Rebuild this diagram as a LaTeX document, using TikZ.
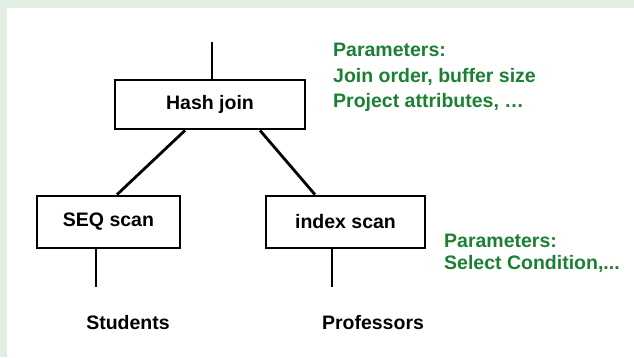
\documentclass[tikz,border=0pt]{standalone}
\usepackage{fontspec}
\setmainfont{Liberation Sans}
\usetikzlibrary{positioning}
\definecolor{paramgreen}{RGB}{28,128,52}
\definecolor{framegreen}{RGB}{227,239,229}

\begin{document}
\begin{tikzpicture}[x=1pt,y=-1pt,
        op/.style={draw,line width=2.8pt,inner sep=0pt,font=\fontsize{19.5}{23}\selectfont\bfseries},
        rel/.style={font=\fontsize{19.5}{23}\selectfont\bfseries},
        param/.style={text=paramgreen,align=left,anchor=north west,inner sep=0pt,
                font=\fontsize{19.5}{25.5}\selectfont\bfseries},
        wire/.style={line width=2.8pt}]
        \fill [framegreen] (0,0) rectangle (634,357);
        \fill [white] (7,8) rectangle (634,357);
        \useasboundingbox (0,0) rectangle (634,357);

        \node [op,minimum width=190pt,minimum height=49pt] (hash) at (210,104.5) {Hash join};
        \node [op,minimum width=143pt,minimum height=52pt] (seq) at (108.5,222) {SEQ scan};
        \node [op,minimum width=159pt,minimum height=52pt] (index) at (345.5,222) {index scan};
        \node [rel] (students) at (128,323) {Students};
        \node [rel] (profs) at (373,323) {Professors};
        \node [param] (hashpar) at (333,43) {Parameters:\\Join order, buffer size\\Project attributes, \dots};
        \node [param,font=\fontsize{19.5}{22}\selectfont\bfseries] (indexpar) at (444,234) {Parameters:\\Select Condition,...};
        \coordinate (out) at (212,42);

        \draw [wire] (out) -- (out |- hash.north);
        \draw [wire] ([xshift=-25pt]hash.south) -- ([xshift=8.5pt]seq.north);
        \draw [wire] ([xshift=50pt]hash.south) -- ([xshift=-30.5pt]index.north);
        \draw [wire] ([xshift=-12.5pt]seq.south) -- ++(0,38);
        \draw [wire] ([xshift=-13.5pt]index.south) -- ++(0,38);
\end{tikzpicture}
\end{document}
